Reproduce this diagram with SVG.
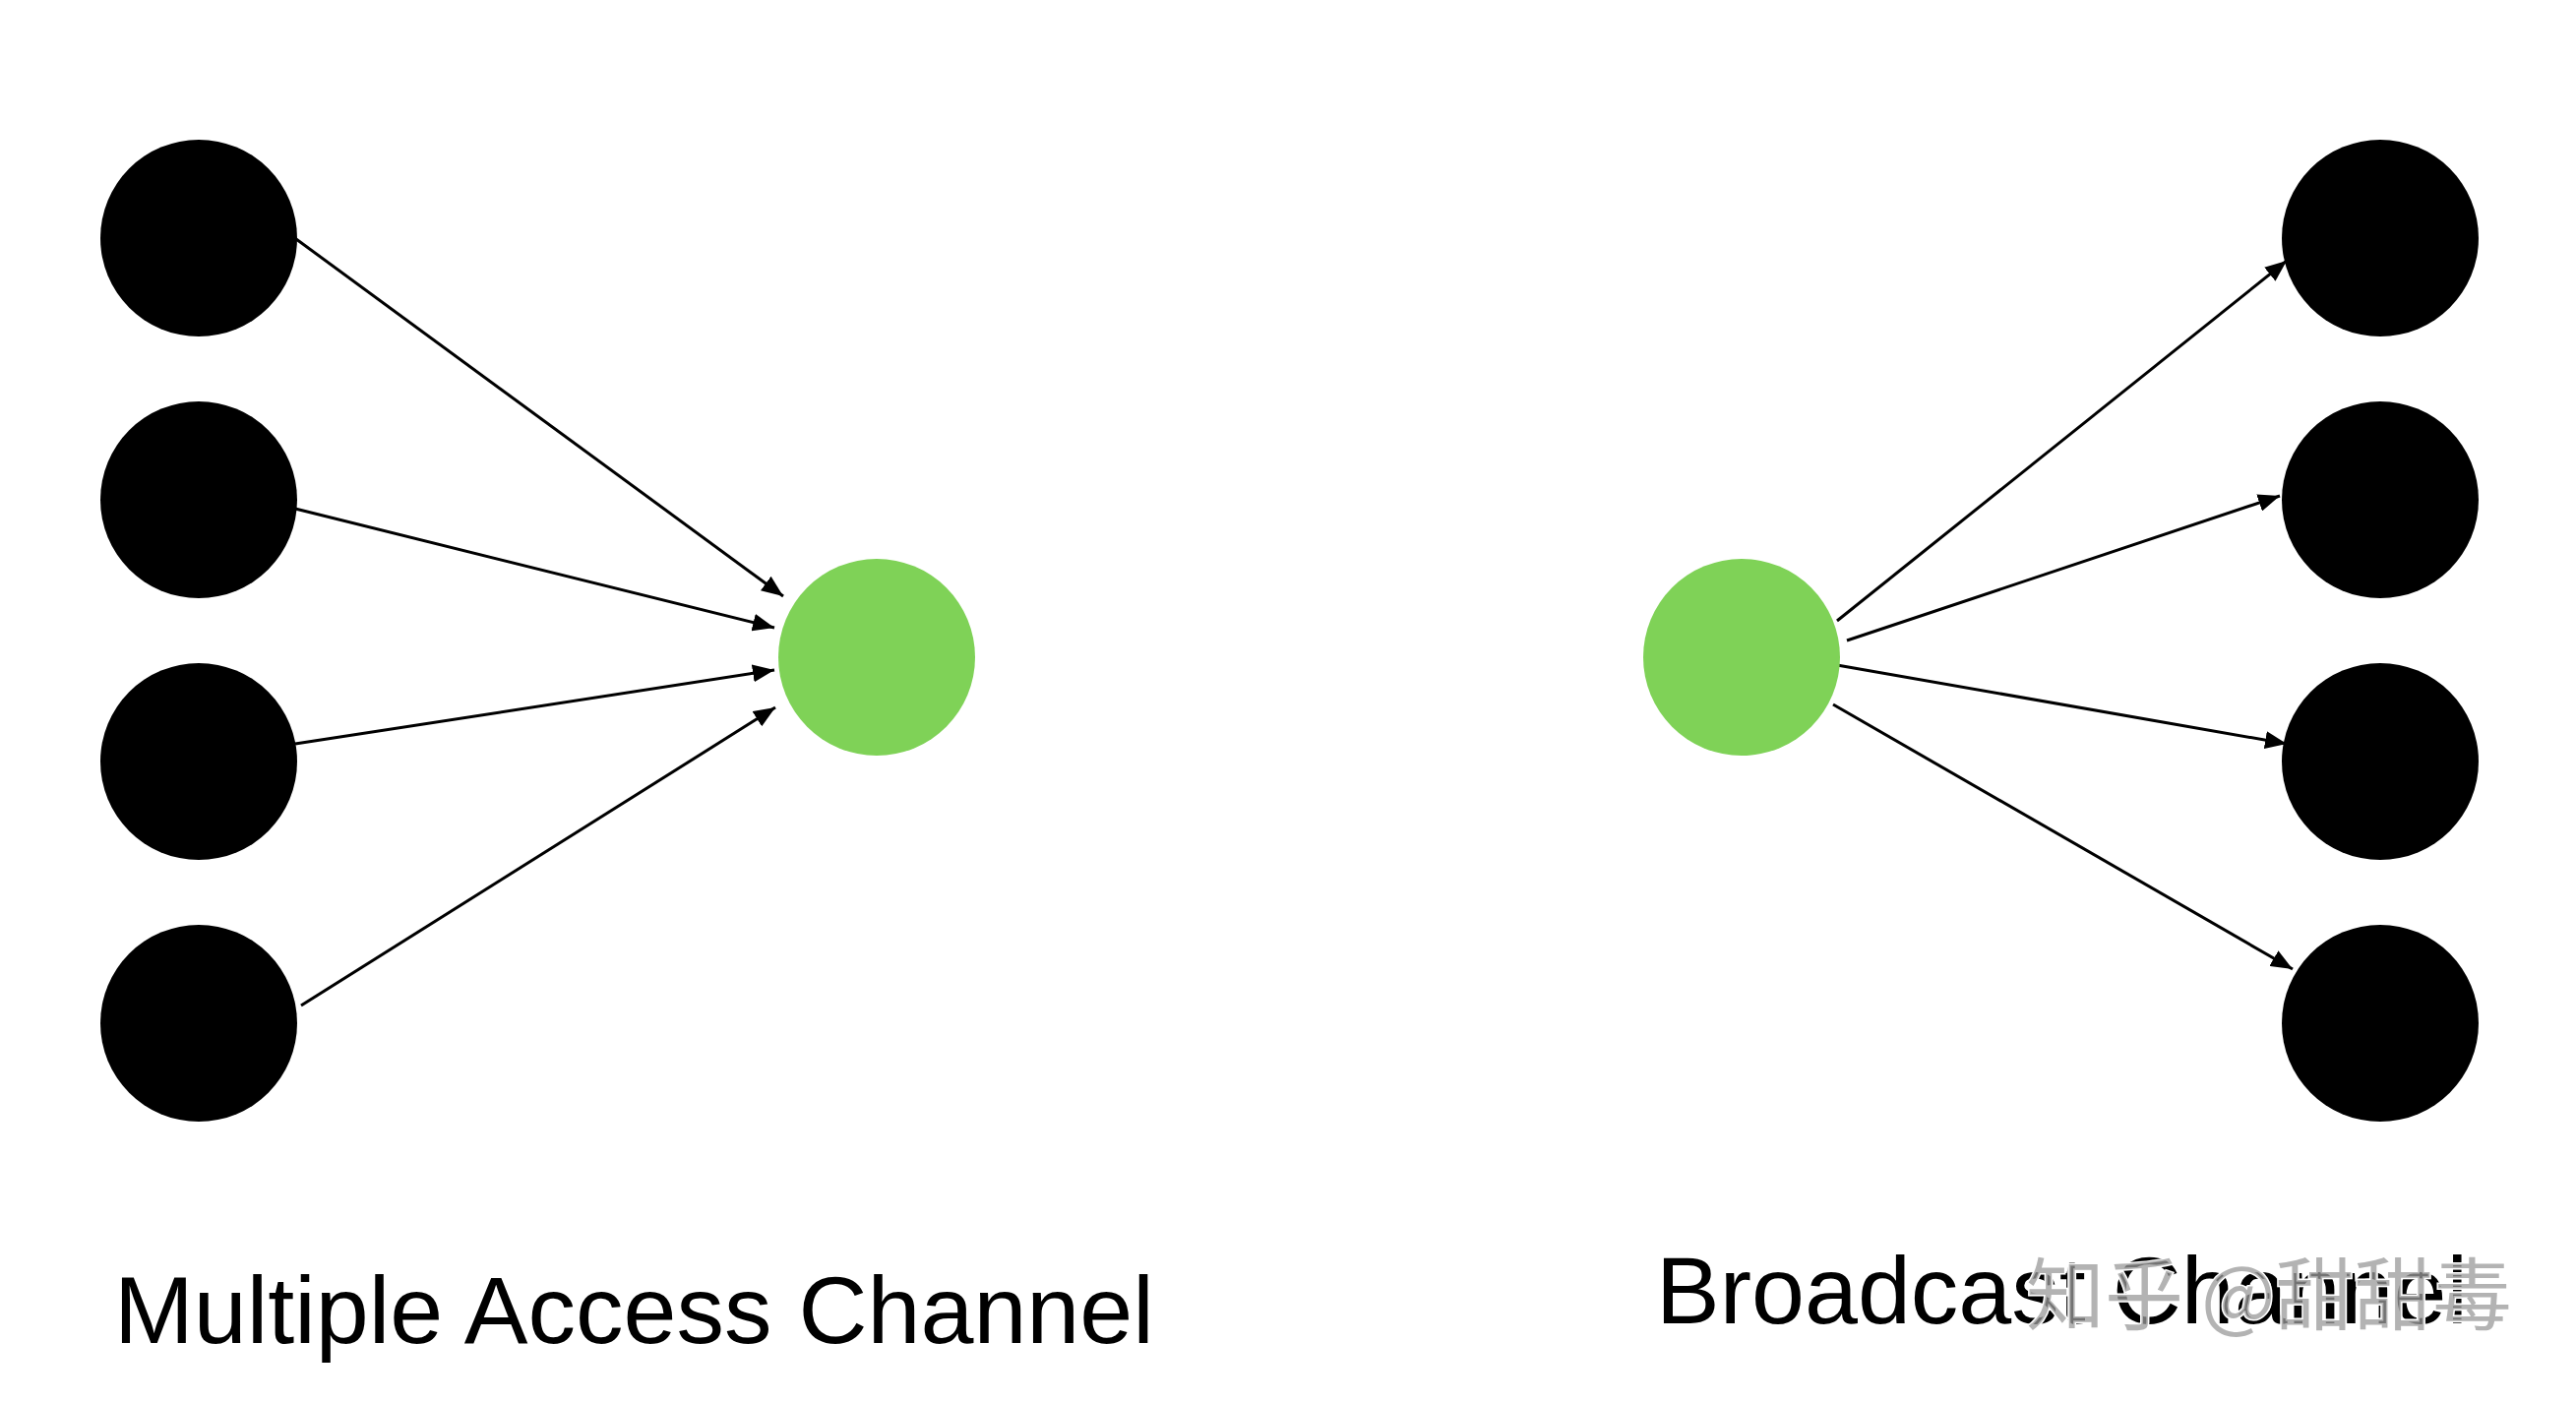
<svg xmlns="http://www.w3.org/2000/svg" width="2618" height="1426" viewBox="0 0 2618 1426">
<style>
.node{fill:#000}
.hub{fill:#7fd257}
.edge{stroke:#000;stroke-width:3;fill:none;marker-end:url(#arr)}
.label{font-family:"Liberation Sans",Arial,sans-serif;font-size:97px;fill:#000}
.wm{font-family:"Noto Sans CJK SC","Liberation Sans",sans-serif;font-size:80px;fill:#9a9a9a;fill-opacity:0.75;stroke:#fff;stroke-width:3;paint-order:stroke}
</style>
<defs>
<marker id="arr" markerUnits="userSpaceOnUse" markerWidth="24" markerHeight="18" refX="22" refY="9" orient="auto">
<path d="M0,0 L22,9 L0,18 Z" fill="#000"/>
</marker>
</defs>
<rect width="2618" height="1426" fill="#fff"/>
<g id="connectors">
<line class="edge" x1="301" y1="243" x2="796" y2="606"/>
<line class="edge" x1="300" y1="517" x2="787" y2="638"/>
<line class="edge" x1="300" y1="756" x2="787" y2="681"/>
<line class="edge" x1="306" y1="1022" x2="788" y2="719"/>
<line class="edge" x1="1867" y1="631" x2="2324" y2="265"/>
<line class="edge" x1="1877" y1="651" x2="2317" y2="504"/>
<line class="edge" x1="1867" y1="676" x2="2324" y2="756"/>
<line class="edge" x1="1863" y1="716" x2="2330" y2="985"/>
</g>
<g id="src1"><circle class="node" cx="202" cy="242" r="100"/></g>
<g id="src2"><circle class="node" cx="202" cy="508" r="100"/></g>
<g id="src3"><circle class="node" cx="202" cy="774" r="100"/></g>
<g id="src4"><circle class="node" cx="202" cy="1040" r="100"/></g>
<g id="mac-hub"><circle class="hub" cx="891" cy="668" r="100"/></g>
<g id="bc-hub"><circle class="hub" cx="1770" cy="668" r="100"/></g>
<g id="dst1"><circle class="node" cx="2419" cy="242" r="100"/></g>
<g id="dst2"><circle class="node" cx="2419" cy="508" r="100"/></g>
<g id="dst3"><circle class="node" cx="2419" cy="774" r="100"/></g>
<g id="dst4"><circle class="node" cx="2419" cy="1040" r="100"/></g>
<g id="labels">
<text class="label" x="116" y="1365">Multiple Access Channel</text>
<text class="label" x="1683" y="1345">Broadcast Channel</text>
<text class="wm" x="2059" y="1345">知乎 @甜甜毒</text>
</g>
</svg>
